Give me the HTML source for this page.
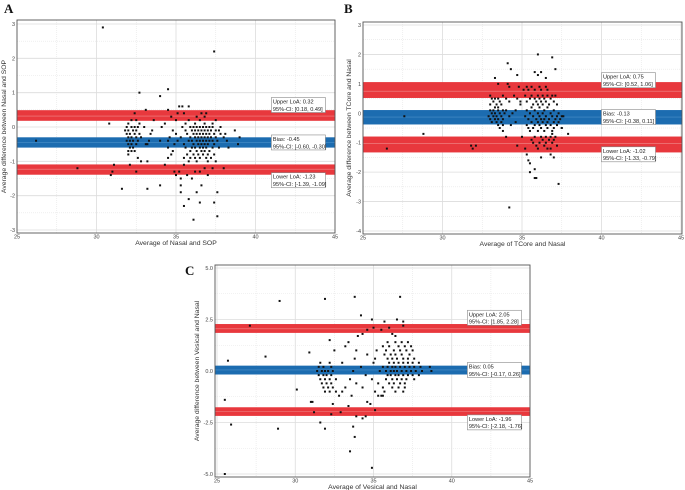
<!DOCTYPE html>
<html><head><meta charset="utf-8"><style>
body{margin:0;background:#fff;width:685px;height:490px;overflow:hidden}
svg{display:block;font-family:"Liberation Sans",sans-serif}
</style></head><body>
<svg id="chart" width="685" height="490" viewBox="0 0 685 490"></svg>
<script>
// ---- Panel A data ----
const aBias=[-0.45,-0.60,-0.30], aUpper=[0.32,0.18,0.49], aLower=[-1.23,-1.39,-1.09];
const aRowsY=[0.6,0.4,0.3,0.2,0.1,0.0,-0.1,-0.2,-0.3,-0.4,-0.5,-0.6,-0.7,-0.8,-0.9,-1.0];
const aRowsX=[[35.2,35.4,35.8],[32.4,35.1,35.5,36.6,36.9],[34.7,36.3,36.8],[32.2,32.5,33.6,35.0,35.8,36.5,37.5],
[32.0,32.7,34.3,35.6,36.2,36.8,37.3],[31.9,32.2,32.4,32.6,33.0,34.1,35.4,35.9,36.1,36.3,36.5,36.7,36.9,37.1,37.3,37.8],
[31.8,32.0,32.3,32.5,33.5,34.8,35.6,36.0,36.2,36.4,36.6,36.8,37.0,37.2,37.5,37.7],
[31.9,32.1,32.4,32.7,33.4,35.0,35.7,36.1,36.3,36.5,36.7,36.9,37.1,37.4,37.8,38.1],
[32.0,32.2,32.5,32.8,34.6,35.3,35.9,36.2,36.4,36.6,36.8,37.0,37.2,37.5,38.0],
[26.2,31.9,32.1,32.3,32.6,33.3,34.0,34.5,35.1,35.8,36.0,36.3,36.5,36.7,36.9,37.1,37.3,37.6,38.2],
[32.0,32.2,32.5,33.1,33.2,34.9,35.5,36.1,36.4,36.6,36.8,37.0,37.4,38.9],
[32.1,32.3,34.5,35.6,36.0,36.2,36.5,36.7,36.9,37.3,37.7],[32.0,32.2,32.4,34.8,35.9,36.3,36.6,36.8,37.1],
[32.0,34.7,35.7,36.1,36.4,36.7,37.0,37.4],[32.6,34.5,35.5,35.9,36.2,36.5,36.9,37.2],[32.8,33.2,35.8,36.3,37.0,37.5]];
const aOutX=[28.8,30.4,37.4,32.7,34.0,34.5,33.1,34.5,31.6,33.2,34.0,36.1,37.6,35.5,35.8,36.5,37.4,35.3,36.3,37.6,35.3,36.6,35.3,36.0,30.9,31.0,31.1,32.1,32.5,34.3,34.9,35.0,35.2,35.5,35.7,36.2,36.5,36.8,37.0,37.3,38.0,30.8,38.7,39.0,38.3];
const aOutY=[-1.2,2.9,2.2,1.0,0.9,1.1,0.5,0.5,-1.8,-1.8,-1.7,-2.7,-2.6,-2.3,-2.1,-2.2,-2.2,-1.9,-1.9,-1.9,-1.7,-1.7,-1.5,-1.5,-1.4,-1.3,-1.1,-1.1,-1.3,-1.1,-1.3,-1.4,-1.3,-1.1,-1.4,-1.3,-1.3,-1.2,-1.4,-1.2,-1.2,0.1,-0.1,-0.3,-0.6];
const aYTicks=[3,2,1,0,-1,-2,-3], aYLabels=["3","2","1","0","-1","-2","-3"];
// ---- Panel B data ----
const bBias=[-0.13,-0.38,0.11], bUpper=[0.75,0.52,1.06], bLower=[-1.02,-1.33,-0.79];
const bRowsY=[0.9,0.8,0.6,0.5,0.4,0.3,0.2,0.1,0.0,-0.1,-0.2,-0.3,-0.4,-0.5,-0.6,-0.8,-0.9,-1.0,-1.1,-1.2];
const bRowsX=[[34.8,35.3,35.6,36.1,36.5],[35.1,35.4,35.8,36.2,36.6],[33.0,33.8,34.5,35.2,35.6,36.0,36.3,36.6,36.9,37.1],
[33.1,33.3,33.5,34.0,34.7,35.5,35.8,36.1,36.4,36.8],[33.2,33.6,34.2,34.9,35.3,35.9,36.2,36.5,37.0],
[33.0,33.4,33.7,35.7,36.0,36.3,36.7,37.2],[33.3,33.5,35.6,36.1,36.6],[33.0,33.2,33.5,33.8,34.0,34.6,35.3,35.8,36.4,37.0],
[33.1,33.3,33.6,33.9,34.4,35.5,36.0,36.3,36.8,37.3],[32.9,33.2,33.4,33.7,34.2,35.2,35.7,36.1,36.5,36.9,37.2,37.5],
[33.0,33.3,33.5,33.8,35.4,35.9,36.2,36.4,36.7,37.1,37.4],[33.1,33.4,33.7,34.6,35.6,36.0,36.3,36.6,37.0,37.3],
[33.5,33.8,34.3,35.3,35.8,36.1,36.5,36.8,37.2],[33.6,35.4,35.7,36.2,36.6,37.0,37.5],[33.8,35.5,36.0,36.4,36.9],
[34.0,35.8,36.2,36.5,36.8,37.1],[35.6,36.3,36.7,37.0],[35.7,36.1,36.5,36.9],[35.9,36.4,37.2],[36.0,36.6,36.8]];
const bOutX=[26.5,27.6,28.8,31.8,31.9,32.1,34.7,35.0,35.2,37.9,37.5,37.6,36.9,34.9,36.0,36.9,34.1,34.3,37.1,34.7,35.8,36.2,36.5,36.0,33.3,34.1,33.5,34.2,34.2,35.3,35.4,35.5,35.8,35.5,35.8,35.9,37.3,36.2,36.8,37.0];
const bOutY=[-1.2,-0.1,-0.7,-1.1,-1.2,-1.1,-1.1,-0.8,-1.2,-0.7,-0.5,-0.1,-0.7,0.3,2.0,1.9,1.7,1.5,1.5,1.3,1.4,1.4,1.2,1.3,1.2,1.0,1.0,0.9,-3.2,-1.4,-1.6,-1.7,-1.9,-2.0,-2.2,-2.2,-2.4,-1.5,-1.4,-1.5];
const bYTicks=[3,2,1,0,-1,-2,-3,-4], bYLabels=["3","2","1","0","-1","-2","-3","-4"];
// ---- Panel C data ----
const cBias=[0.05,-0.17,0.26], cUpper=[2.05,1.85,2.28], cLower=[-1.96,-2.18,-1.76];
const cRowsY=[1.4,1.2,1.0,0.8,0.6,0.4,0.2,0.0,-0.2,-0.4,-0.6,-0.8,-1.0,-1.2];
const cRowsX=[[35.9,36.4,36.8,37.2],[35.6,36.0,36.6,37.0,37.4],[35.2,35.8,36.3,36.7,37.1,37.5],[34.6,35.7,36.1,36.4,36.8,37.3],
[33.8,35.1,35.9,36.2,36.5,36.9,37.2,37.6],[31.6,32.2,33.0,35.0,36.0,36.3,36.6,36.9,37.2,37.5,37.9],
[31.5,31.8,32.3,34.2,35.6,35.9,36.2,36.4,36.7,37.0,37.3,37.6,38.0,38.6],
[31.4,31.7,31.9,32.1,32.4,33.7,35.4,35.8,36.1,36.3,36.5,36.8,37.1,37.4,37.7,38.1,38.7],
[31.5,31.8,32.0,32.3,34.5,35.9,36.1,36.4,36.6,36.9,37.2,37.5,37.9],[31.6,31.9,32.2,32.6,33.5,34.9,35.8,36.2,36.5,36.8,37.1,37.6],
[31.7,32.0,32.3,33.9,35.3,36.0,36.3,36.7,37.0],[31.8,32.1,32.4,33.2,34.3,35.6,36.2,36.6,37.0],
[31.9,32.2,32.6,33.0,35.1,35.7,36.4,36.9],[32.8,33.6,35.3,35.5,35.6]];
const cOutX=[25.5,25.5,25.7,25.9,27.1,28.1,29.0,28.9,30.1,30.9,31.9,33.8,36.7,34.2,34.9,35.7,36.5,36.9,36.9,31.9,33.5,33.8,34.9,33.7,31.6,31.2,31.0,31.1,32.3,32.9,33.9,34.5,34.3,35.1,34.8,34.6,33.4,32.4,32.2,32.5,33.2,33.4,33.9,34.0,34.3,34.6,35.0,35.5,36.0,36.2,36.4];
const cOutY=[-5.0,-1.4,0.5,-2.6,2.2,0.7,3.4,-2.8,-0.9,0.9,3.5,3.6,3.6,2.7,2.5,2.4,2.5,2.4,2.2,-2.8,-3.9,-3.2,-4.7,-2.7,-2.5,-2.0,-1.5,-1.5,-2.1,-2.0,-2.2,-2.2,-2.3,-1.9,-1.6,-1.5,-1.7,-1.6,1.5,1.0,1.2,1.4,1.0,1.7,1.8,2.0,2.1,2.0,2.1,1.8,1.7];
const cYTicks=[5,2.5,0,-2.5,-5], cYLabels=["5.0","2.5","0.0","-2.5","-5.0"];
const xTicks=[25,30,35,40,45], xLabels=["25","30","35","40","45"];

const NS="http://www.w3.org/2000/svg";
const svg=document.getElementById('chart');
function mk(tag,attrs,parent){const e=document.createElementNS(NS,tag);for(const k in attrs)e.setAttribute(k,attrs[k]);(parent||svg).appendChild(e);return e;}

function panel(cfg){
  const g=mk('g',{});
  
  
  const px=v=>cfg.x0+(v-25)/20*(cfg.x1-cfg.x0);
  const py=v=>cfg.yT+(cfg.yMax-v)/(cfg.yMax-cfg.yMin)*(cfg.yB-cfg.yT);
  const L=cfg.bl, R=cfg.br, T=cfg.bt, B=cfg.bb;
  mk('rect',{x:L,y:T,width:R-L,height:B-T,fill:'#fff'},g);
  for(let i=0;i<xTicks.length-1;i++){const m=px((xTicks[i]+xTicks[i+1])/2);mk('line',{x1:m,x2:m,y1:T,y2:B,stroke:'#e4e4e4','stroke-width':0.6,'stroke-dasharray':'1,1'},g);}
  for(let i=0;i<cfg.yt.length-1;i++){const m=py((cfg.yt[i]+cfg.yt[i+1])/2);mk('line',{x1:L,x2:R,y1:m,y2:m,stroke:'#e4e4e4','stroke-width':0.6,'stroke-dasharray':'1,1'},g);}
  xTicks.forEach((t,i)=>{const x=px(t);mk('line',{x1:x,x2:x,y1:T,y2:B,stroke:'#dcdcdc','stroke-width':0.8},g);
    const tl=mk('text',{x:x,y:B+5.5,'font-size':5.5,'text-anchor':'middle',fill:'#444'},g);tl.textContent=xLabels[i];
    
    });
  cfg.yt.forEach((t,i)=>{const y=py(t);mk('line',{x1:L,x2:R,y1:y,y2:y,stroke:'#dcdcdc','stroke-width':0.8},g);
    const tl=mk('text',{x:L-2,y:y+2,'font-size':5.5,'text-anchor':'end',fill:'#444'},g);tl.textContent=cfg.yl[i];
    
    });
  const bands=[[cfg.upper,'#e8383d','#f08a8c','upper-loa-band'],[cfg.bias,'#1c6cb0','#4a8fc8','bias-band'],[cfg.lower,'#e8383d','#f08a8c','lower-loa-band']];
  bands.forEach(b=>{const r=mk('rect',{x:L,y:py(b[0][2]),width:R-L,height:py(b[0][1])-py(b[0][2]),fill:b[1]},g);
    
    
    mk('line',{x1:L,x2:R,y1:py(b[0][0]),y2:py(b[0][0]),stroke:b[2],'stroke-width':0.6},g);});
  cfg.rowsY.forEach((yv,i)=>cfg.rowsX[i].forEach(xv=>{const p=mk('rect',{x:px(xv)-1,y:py(yv)-1,width:2,height:2,fill:'#111'},g);
    
    }));
  cfg.outX.forEach((xv,i)=>{const p=mk('rect',{x:px(xv)-1,y:py(cfg.outY[i])-1,width:2,height:2,fill:'#111'},g);
    
    });
  const fmt=v=>v.toFixed(2);
  const labs=[[cfg.upper,'Upper LoA: ',-11,'upper-loa-label'],[cfg.bias,'Bias: ',0,'bias-label'],[cfg.lower,'Lower LoA: ',11,'lower-loa-label']];
  labs.forEach(l=>{const cy=py(l[0][0])+l[2];const bx=px(cfg.lab);
    const lg=mk('g',{},g);
    
    
    mk('rect',{x:bx,y:cy-7.5,width:54,height:15,fill:'#fff',stroke:'#888','stroke-width':0.6},lg);
    const t1=mk('text',{x:bx+1.5,y:cy-1.5,'font-size':5.6,fill:'#222'},lg);t1.textContent=l[1]+fmt(l[0][0]);
    const t2=mk('text',{x:bx+1.5,y:cy+5.8,'font-size':5.6,fill:'#222'},lg);t2.textContent='95%-CI: ['+fmt(l[0][1])+', '+fmt(l[0][2])+']';});
  mk('rect',{x:L,y:T,width:R-L,height:B-T,fill:'none',stroke:'#555','stroke-width':0.9},g);
  const xt=mk('text',{x:(L+R)/2,y:B+12,'font-size':6.8,'text-anchor':'middle',fill:'#333'},g);xt.textContent=cfg.xTitle;
  
  
  const yc=(T+B)/2;
  const yt=mk('text',{x:cfg.ytx,y:yc,'font-size':6.8,'text-anchor':'middle',fill:'#333',transform:'rotate(-90 '+cfg.ytx+' '+yc+')'},g);yt.textContent=cfg.yTitle;
  
  
  const lt=mk('text',{x:cfg.lx,y:cfg.ly,'font-size':13,'font-weight':'bold','font-family':'Liberation Serif, serif',fill:'#111'},g);lt.textContent=cfg.letter;
  
  
}
panel({name:'panel-a',x0:17,x1:335,yMax:3,yMin:-3,yT:24,yB:230,bl:17,br:335,bt:20,bb:233,yt:aYTicks,yl:aYLabels,bias:aBias,upper:aUpper,lower:aLower,rowsY:aRowsY,rowsX:aRowsX,outX:aOutX,outY:aOutY,xTitle:'Average of Nasal and SOP',yTitle:'Average difference between Nasal and SOP',ytx:6,letter:'A',lx:4,ly:13,lab:41});
panel({name:'panel-b',x0:363,x1:681,yMax:3,yMin:-4,yT:25,yB:231,bl:363,br:682,bt:22,bb:234,yt:bYTicks,yl:bYLabels,bias:bBias,upper:bUpper,lower:bLower,rowsY:bRowsY,rowsX:bRowsX,outX:bOutX,outY:bOutY,xTitle:'Average of TCore and Nasal',yTitle:'Average difference between TCore and Nasal',ytx:351,letter:'B',lx:344,ly:13,lab:40});
panel({name:'panel-c',x0:217,x1:530,yMax:5,yMin:-5,yT:268,yB:474,bl:215,br:530,bt:265,bb:477,yt:cYTicks,yl:cYLabels,bias:cBias,upper:cUpper,lower:cLower,rowsY:cRowsY,rowsX:cRowsX,outX:cOutX,outY:cOutY,xTitle:'Average of Vesical and Nasal',yTitle:'Average difference between Vesical and Nasal',ytx:199,letter:'C',lx:185,ly:275,lab:41});
</script>
</body></html>
